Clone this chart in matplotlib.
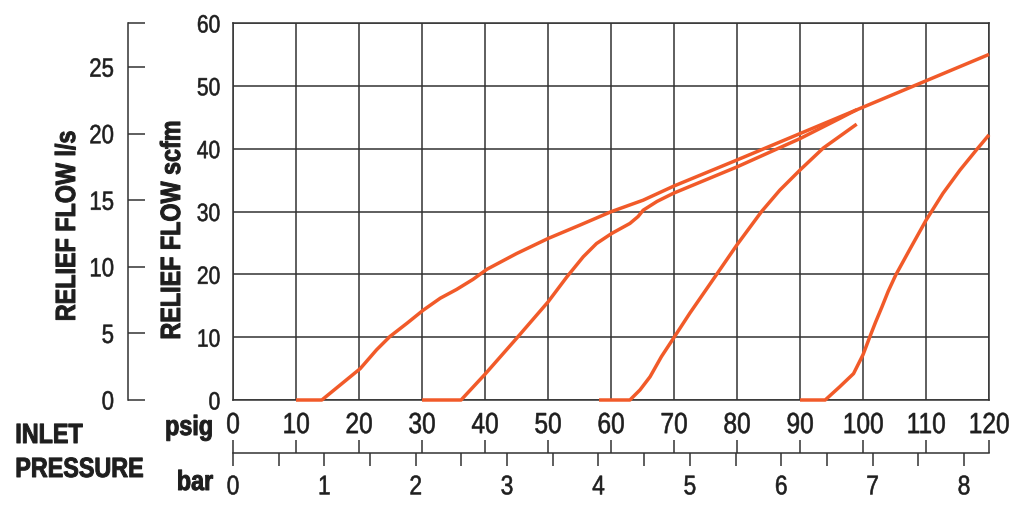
import matplotlib
matplotlib.use("Agg")
import matplotlib.pyplot as plt
from matplotlib import patheffects
from matplotlib.transforms import Affine2D

plt.rcParams['font.family'] = ['Liberation Sans', 'DejaVu Sans']

# relief curves, psig vs scfm
c10_psig = [10, 14.1, 20.2, 22.8, 24.9, 27.6, 30.2, 32.9, 35.5, 38.1, 40.3, 45.0,
            50.0, 55.1, 60.1, 65.1, 70, 80, 90, 100, 110, 120]
c10_scfm = [0, 0, 5.0, 8.0, 10.1, 12.2, 14.3, 16.2, 17.6, 19.2, 20.8, 23.3,
            25.7, 27.85, 30.0, 31.8, 34.06, 38.2, 42.4, 46.6, 50.8, 55.0]

c30_psig = [30, 36.2, 40, 45, 50, 53, 55.6, 57.7, 60.1, 63, 64.3, 65.1, 67.3,
            69.9, 80, 90, 96.3, 99]
c30_scfm = [0, 0, 4.1, 9.8, 15.6, 19.6, 22.8, 24.9, 26.5, 28.1, 29.2, 30.2, 31.6,
            32.9, 37.1, 41.6, 44.8, 46.2]

c60_psig = [58.1, 63.0, 64.6, 66.2, 68.0, 69.9, 72.5, 76.5, 80, 83.9, 86.8, 90, 93.7, 99.0]
c60_scfm = [0, 0, 1.6, 3.7, 6.9, 9.8, 13.8, 19.6, 24.7, 30.0, 33.4, 36.6, 40.1, 43.9]

c90_psig = [90, 94, 96.3, 98.5, 100, 101.1, 102.0, 103.0, 104.0, 105.2, 107.5,
            110, 112.7, 115.4, 118, 120]
c90_scfm = [0, 0, 2.1, 4.2, 7.2, 10.1, 12.4, 14.8, 17.3, 19.9, 24.1,
            28.6, 32.9, 36.6, 39.8, 42.2]

psig_ticks = list(range(0, 121, 10))
scfm_ticks = list(range(0, 61, 10))
ls_ticks = [0, 5, 10, 15, 20, 25]
bar_ticks = [0, 1, 2, 3, 4, 5, 6, 7, 8]
bar_half = [0.5, 1.5, 2.5, 3.5, 4.5, 5.5, 6.5, 7.5]

SCFM_PER_LS = 2.11888
PSI_PER_BAR = 14.5038
orange = '#f15a29'
dark = '#333333'
ink = '#1e1e1e'
W, H = 1024, 516


class Condense(patheffects.AbstractPathEffect):
    """Squeeze glyphs horizontally (and thicken a bit) to mimic a condensed face."""

    def __init__(self, sx=0.84, anchor='center', stroke=0.0):
        super().__init__()
        self.sx = sx
        self.anchor = anchor
        self.stroke = stroke

    def draw_path(self, renderer, gc, tpath, affine, rgbFace=None):
        ext = tpath.get_extents()
        cx = {'left': ext.x0, 'right': ext.x1}.get(self.anchor, (ext.x0 + ext.x1) / 2)
        squeeze = Affine2D().translate(-cx, 0).scale(self.sx, 1).translate(cx, 0)
        gc0 = renderer.new_gc()
        gc0.copy_properties(gc)
        gc0.set_linewidth(self.stroke)
        renderer.draw_path(gc0, tpath, squeeze + affine, rgbFace)
        gc0.restore()


def cond(anchor, stroke=0.4):
    return [Condense(0.84, anchor, stroke)]


fig = plt.figure(figsize=(W / 100, H / 100), dpi=100)

# main chart
ax = fig.add_axes([233 / W, 1 - 400 / H, 756 / W, 377 / H])
for xs, ys in [(c10_psig, c10_scfm), (c30_psig, c30_scfm),
               (c60_psig, c60_scfm), (c90_psig, c90_scfm)]:
    ax.plot(xs, ys, color=orange, lw=2.5, zorder=5, clip_on=False,
            solid_capstyle='butt', solid_joinstyle='round')
ax.set_xlim(0, 120)
ax.set_ylim(0, 60)
ax.set_xticks(psig_ticks)
ax.set_xticklabels([str(v) for v in psig_ticks], path_effects=cond('center'))
ax.set_yticks(scfm_ticks)
ax.set_yticklabels([str(v) for v in scfm_ticks], path_effects=cond('right'))
ax.grid(True, color=dark, lw=1.1)
ax.set_axisbelow(True)
for s in ax.spines.values():
    s.set_color(dark)
    s.set_linewidth(1.1)
ax.tick_params(axis='x', length=0, labelsize=21, pad=8, labelcolor=ink)
ax.tick_params(axis='y', length=0, labelsize=18, pad=9, labelcolor=ink)

# l/s scale on the left
axl = fig.add_axes([128 / W, 1 - 400 / H, 0.001, 377 / H])
axl.set_ylim(0, 60 / SCFM_PER_LS)
axl.set_yticks(ls_ticks + [60 / SCFM_PER_LS])
axl.set_yticklabels([str(v) for v in ls_ticks] + [''], path_effects=cond('right'))
axl.set_xticks([])
for k in ['top', 'right', 'bottom']:
    axl.spines[k].set_visible(False)
axl.spines['left'].set_color(dark)
axl.spines['left'].set_linewidth(1.1)
axl.tick_params(axis='y', direction='in', length=12, width=1.1, color=dark,
                labelsize=19, pad=10, labelcolor=ink)
axl.patch.set_visible(False)

# pressure scale below: psig ticks up, bar ticks down
axb = fig.add_axes([233 / W, 1 - 453 / H, 756 / W, 0.001])
axb.set_xlim(0, 120)
axb.set_xticks(psig_ticks)
axb.set_xticklabels([])
axb.set_yticks([])
for k in ['top', 'right', 'left']:
    axb.spines[k].set_visible(False)
axb.spines['bottom'].set_color(dark)
axb.spines['bottom'].set_linewidth(1.1)
axb.tick_params(axis='x', direction='in', length=9.4, width=1.1, color=dark)
axb.patch.set_visible(False)

sec = axb.secondary_xaxis('bottom', functions=(lambda p: p / PSI_PER_BAR,
                                                lambda b: b * PSI_PER_BAR))
sec.set_xticks(bar_ticks)
sec.set_xticklabels([str(v) for v in bar_ticks], path_effects=cond('center'))
sec.set_xticks(bar_half, minor=True)
sec.spines['bottom'].set_visible(False)
sec.tick_params(axis='x', which='both', direction='out', length=9.4, width=1.1,
                color=dark, labelsize=19.5, pad=6, labelcolor=ink)

# labels
bold = dict(fontweight='bold', fontsize=20, color=ink)
fig.text(68 / W, 1 - 226 / H, 'RELIEF FLOW l/s', rotation=90,
         ha='center', va='center', path_effects=cond('center', 0.7), **bold)
fig.text(173 / W, 1 - 230 / H, 'RELIEF FLOW scfm', rotation=90,
         ha='center', va='center', path_effects=cond('center', 0.7), **bold)
fig.text(213 / W, 1 - 435 / H, 'psig', ha='right', va='baseline',
         path_effects=cond('right', 0.7), **bold)
fig.text(213 / W, 1 - 490 / H, 'bar', ha='right', va='baseline',
         path_effects=cond('right', 0.7), **bold)
fig.text(15 / W, 1 - 443 / H, 'INLET', ha='left', va='baseline',
         path_effects=cond('left', 0.7), **bold)
fig.text(15 / W, 1 - 477 / H, 'PRESSURE', ha='left', va='baseline',
         path_effects=cond('left', 0.7), **bold)

fig.savefig('out.png', dpi=100)
